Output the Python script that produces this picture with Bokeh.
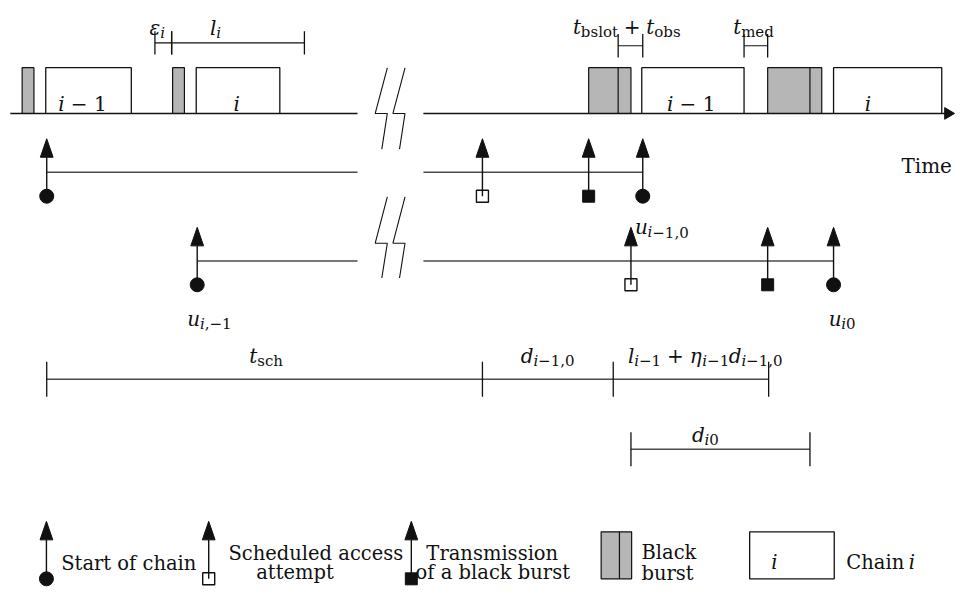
import numpy as np
from bokeh.plotting import figure
from bokeh.models import Range1d, ColumnDataSource
from bokeh.core.properties import value
from bokeh.embed import file_html
from bokeh.resources import INLINE

# ---------------- data (time instants on the diagram's time axis) ----------------
axis_start = 10
axis_end = 970
axis_break = [363, 430]            # gap in the time axis (//)

# top time line: black bursts and chains
burst_start = [22, 175, 598, 780]
burst_end = [34, 187, 641, 835]
burst_split = [None, None, 628, 823]   # boundary t_bslot | t_obs inside a burst
chain_start = [46, 199, 652, 847]
chain_end = [133, 284, 756, 957]
chain_name = ["i-1", "i", "i-1", "i"]

# the two chains (rows): start, scheduled access, black-burst transmission, end
row_start = [47, 200]
row_sched = [490, 641]
row_burst = [598, 780]
row_end = [653, 847]

# interval brackets above the time line
top_int_start = [157, 174, 628, 756]
top_int_end = [174, 309, 653, 780]
# interval brackets below the rows
low_int_start = [47, 490, 623]
low_int_end = [490, 623, 781]
di0_int = [641, 823]

# ---------------- layout ----------------
FONT = "DejaVu Serif"
MAIN = 20
SUB = 15
SUB_DY = 5
TL_Y = 116
BOX_TOP = 69
ROW_Y = [176.5, 267.5]
LEG_Y = 569.5

p = figure(width=956, height=590, x_range=Range1d(0, 972), y_range=Range1d(606, 0),
           output_backend="svg", toolbar_location=None, min_border=0,
           x_axis_location=None, y_axis_location=None)
p.grid.visible = False
p.outline_line_color = None
p.background_fill_color = "white"
p.border_fill_color = "white"

INK = "#111111"
GRAY = "#4a4a4a"

# ---------------- text helper ----------------
W_RM = {' ': .318, '+': .838, '−': .838, ',': .318, '0': .636, '1': .636, 'b': .640,
        's': .513, 'l': .320, 'o': .602, 't': .402, 'm': .948, 'e': .592, 'd': .640,
        'c': .560, 'h': .644, 'i': .320, 'C': .734, 'a': .596, 'n': .644}
W_IT = {'ε': .55, 'η': .64, 'i': .320, 'l': .320, 't': .402, 'u': .644, 'd': .640}

texts = {}


def put(x, y, s, style, size):
    d = texts.setdefault((style, size), {"x": [], "y": [], "t": []})
    d["x"].append(x)
    d["y"].append(y)
    d["t"].append(s)


def tw(s, size, italic):
    tab = W_IT if italic else W_RM
    return sum(tab.get(c, 0.6) for c in s) * size


def math(x, y, parts, align="left", main=MAIN, sub=SUB):
    widths = [tw(t, sub if sb else main, it) for t, it, sb in parts]
    cx = x - sum(widths) / 2 if align == "center" else x
    for (t, it, sb), w in zip(parts, widths):
        size = sub if sb else main
        lead = len(t) - len(t.lstrip(' '))
        s = t.strip(' ')
        if s:
            put(cx + lead * W_RM[' '] * size, y + (SUB_DY if sb else 0), s,
                "italic" if it else "normal", size)
        cx += w


# ---------------- time line ----------------
p.segment(x0=[axis_start, axis_break[1]], y0=[TL_Y, TL_Y],
          x1=[axis_break[0], axis_end - 9], y1=[TL_Y, TL_Y], line_color=INK, line_width=1.4)
p.patch(x=[axis_end - 10, axis_end, axis_end - 10], y=[TL_Y - 6, TL_Y, TL_Y + 6],
        fill_color=INK, line_color=INK)

# bursts
p.quad(left=burst_start, right=burst_end, top=[BOX_TOP] * 4, bottom=[TL_Y] * 4,
       fill_color="#b6b6b6", line_color=INK, line_width=1.2)
sx = [s for s in burst_split if s is not None]
p.segment(x0=sx, y0=[BOX_TOP] * len(sx), x1=sx, y1=[TL_Y] * len(sx), line_color=INK, line_width=1.2)
# chains
p.quad(left=chain_start, right=chain_end, top=[BOX_TOP] * 4, bottom=[TL_Y] * 4,
       fill_color="white", line_color=INK, line_width=1.3)
chain_label_x = [83, 240, 702, 882]
for nm, lx in zip(chain_name, chain_label_x):
    if nm == "i-1":
        math(lx, 106, [("i", True, False), (" − 1", False, False)], align="center")
    else:
        math(lx, 106, [("i", True, False)], align="center")

# top brackets
TB_Y = [43.5, 43.5, 46.5, 46.5]
p.segment(x0=top_int_start, y0=TB_Y, x1=top_int_end, y1=TB_Y, line_color=INK, line_width=1.2)
tx = top_int_start + top_int_end
ty = TB_Y + TB_Y
p.segment(x0=tx, y0=[y - 12 for y in ty], x1=tx, y1=[y + 12 for y in ty], line_color=INK, line_width=1.3)
math(151.5, 28, [("ε", True, False), ("i", True, True)])
math(213, 28, [("l", True, False), ("i", True, True)])
math(582, 27, [("t", True, False), ("bslot", False, True), (" + ", False, False),
               ("t", True, False), ("obs", False, True)])
math(745, 27, [("t", True, False), ("med", False, True)])

# breaks (//)
zz_dx = [12.3, 0, 12.3, 6.7]
zz_top = [[-46.7, 0, 0, 36.7], [-47.6, 0, 0, 35.7]]
zz_ref = [(381, TL_Y), (381, 249.3)]
zxs, zys = [], []
for (bx, by), dys in zip(zz_ref, zz_top):
    for off in (0, 18):
        zxs.append([bx + off + d for d in zz_dx])
        zys.append([by + d for d in dys])
p.multi_line(xs=zxs, ys=zys, line_color=INK, line_width=1.1)


# ---------------- rows ----------------
def arrows(xs, line_y, kinds):
    tip, base, mk = line_y - 34.5, line_y - 15.5, line_y + 24.5
    p.segment(x0=xs, y0=[mk] * len(xs), x1=xs, y1=[base] * len(xs), line_color=INK, line_width=1.4)
    p.patches(xs=[[x - 6.5, x, x + 6.5] for x in xs], ys=[[base, tip, base]] * len(xs),
              fill_color=INK, line_color=INK, line_width=1)
    for x, k in zip(xs, kinds):
        if k == "circle":
            p.scatter([x], [mk], marker="circle", size=14, fill_color=INK, line_color=INK)
        elif k == "open":
            p.scatter([x], [mk], marker="square", size=12, fill_color=None, line_color=INK, line_width=1.4)
        else:
            p.scatter([x], [mk], marker="square", size=12, fill_color=INK, line_color=INK)


for r in range(2):
    y = ROW_Y[r]
    p.segment(x0=[row_start[r], axis_break[1]], y0=[y, y], x1=[axis_break[0], row_end[r]], y1=[y, y],
              line_color=GRAY, line_width=1.5)
    arrows([row_start[r], row_sched[r], row_burst[r], row_end[r]], y,
           ["circle", "open", "filled", "circle"])

math(645, 233, [("u", True, False), ("i", True, True), ("−1,0", False, True)])
math(190, 327, [("u", True, False), ("i", True, True), (",−1", False, True)])
math(842, 327, [("u", True, False), ("i", True, True), ("0", False, True)])
put(916, 170, "Time", "normal", MAIN)

# ---------------- lower brackets ----------------
LB_Y = 389
p.segment(x0=[low_int_start[0]], y0=[LB_Y], x1=[low_int_end[-1]], y1=[LB_Y], line_color=GRAY, line_width=1.5)
lt = sorted(set(low_int_start + low_int_end))
p.segment(x0=lt, y0=[LB_Y - 18] * len(lt), x1=lt, y1=[LB_Y + 18] * len(lt), line_color=INK, line_width=1.3)
D_Y = 461
p.segment(x0=[di0_int[0]], y0=[D_Y], x1=[di0_int[1]], y1=[D_Y], line_color=GRAY, line_width=1.5)
p.segment(x0=di0_int, y0=[D_Y - 17.5] * 2, x1=di0_int, y1=[D_Y + 17.5] * 2, line_color=INK, line_width=1.3)

math(253, 365, [("t", True, False), ("sch", False, True)])
math(529, 365, [("d", True, False), ("i", True, True), ("−1,0", False, True)])
math(638, 365, [("l", True, False), ("i", True, True), ("−1", False, True), (" + ", False, False),
                ("η", True, False), ("i", True, True), ("−1", False, True),
                ("d", True, False), ("i", True, True), ("−1,0", False, True)])
math(703, 446, [("d", True, False), ("i", True, True), ("0", False, True)])

# ---------------- legend ----------------
LEG = 19.5
arrows([46.7, 211.7, 417.7], LEG_Y, ["circle", "open", "filled"])
put(61.7, 578, "Start of chain", "normal", LEG)
put(231.7, 568, "Scheduled access", "normal", LEG)
put(260, 587, "attempt", "normal", LEG)
put(433, 568, "Transmission", "normal", LEG)
put(422, 587, "of a black burst", "normal", LEG)
p.quad(left=[610.7], right=[641.7], top=[545.7], bottom=[594], fill_color="#b6b6b6",
       line_color=INK, line_width=1.2)
p.segment(x0=[629.3], y0=[545.7], x1=[629.3], y1=[594], line_color=INK, line_width=1.2)
put(651.7, 567, "Black", "normal", LEG)
put(651.7, 589, "burst", "normal", LEG)
p.quad(left=[761.7], right=[847.7], top=[545.7], bottom=[594], fill_color="white",
       line_color=INK, line_width=1.3)
math(786.7, 577, [("i", True, False)], align="center", main=LEG)
math(860, 577.5, [("Chain ", False, False), ("i", True, False)], main=LEG)

# ---------------- draw texts ----------------
for (style, size), d in texts.items():
    src = ColumnDataSource(dict(x=d["x"], y=d["y"], t=d["t"]))
    p.text(x="x", y="y", text="t", source=src, text_font=value(FONT), text_font_style=style,
           text_font_size=f"{size}px", text_baseline="alphabetic", text_align="left", text_color=INK)

open("out.html", "w").write(file_html(p, INLINE))
